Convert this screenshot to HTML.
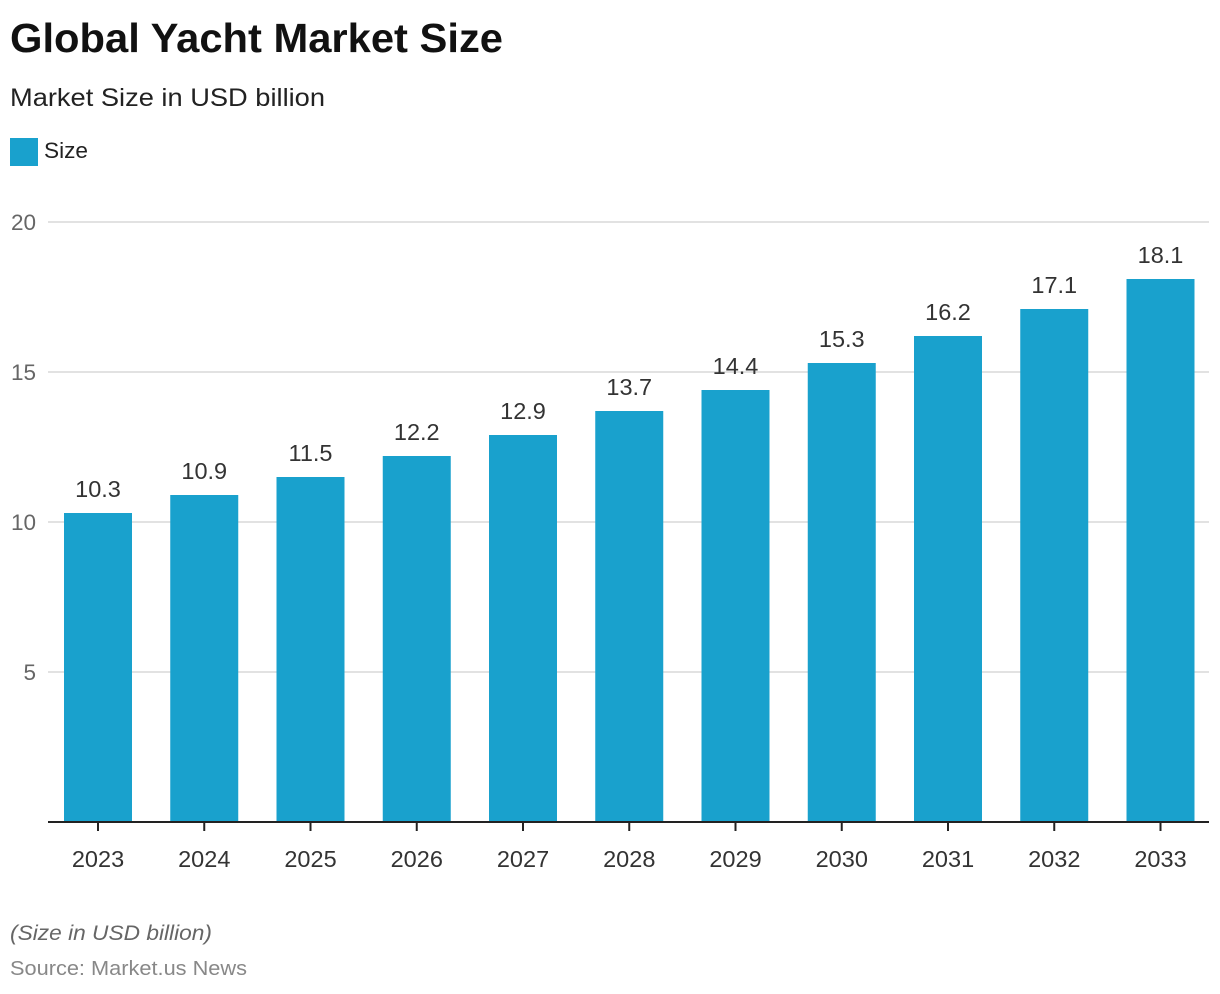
<!DOCTYPE html>
<html>
<head>
<meta charset="utf-8">
<style>
  html,body{margin:0;padding:0;background:#fff;}
  svg{display:block;}
  text{font-family:"Liberation Sans",Arial,sans-serif;}
</style>
</head>
<body>
<svg width="1220" height="994" viewBox="0 0 1220 994" xmlns="http://www.w3.org/2000/svg">
  <rect width="1220" height="994" fill="#fff"/>
  <!-- Title -->
  <text x="10" y="52" font-size="41" font-weight="bold" fill="#111" textLength="493" lengthAdjust="spacingAndGlyphs">Global Yacht Market Size</text>
  <text x="10" y="106" font-size="25" fill="#222" textLength="315" lengthAdjust="spacingAndGlyphs">Market Size in USD billion</text>
  <!-- Legend -->
  <rect x="10" y="138" width="28" height="28" fill="#19a1cd"/>
  <text x="44" y="158" font-size="22" fill="#222" textLength="44" lengthAdjust="spacingAndGlyphs">Size</text>

  <!-- Gridlines -->
  <g stroke="#d9d9d9" stroke-width="1.5">
    <line x1="48" y1="222" x2="1209" y2="222"/>
    <line x1="48" y1="372" x2="1209" y2="372"/>
    <line x1="48" y1="522" x2="1209" y2="522"/>
    <line x1="48" y1="672" x2="1209" y2="672"/>
  </g>
  <!-- Y labels -->
  <g font-size="22.5" fill="#666" text-anchor="end">
    <text x="36" y="230">20</text>
    <text x="36" y="380">15</text>
    <text x="36" y="530">10</text>
    <text x="36" y="680">5</text>
  </g>

  <!-- Bars -->
  <g fill="#19a1cd">
    <rect x="64" y="513" width="68" height="309"/>
    <rect x="170.25" y="495" width="68" height="327"/>
    <rect x="276.5" y="477" width="68" height="345"/>
    <rect x="382.75" y="456" width="68" height="366"/>
    <rect x="489" y="435" width="68" height="387"/>
    <rect x="595.25" y="411" width="68" height="411"/>
    <rect x="701.5" y="390" width="68" height="432"/>
    <rect x="807.75" y="363" width="68" height="459"/>
    <rect x="914" y="336" width="68" height="486"/>
    <rect x="1020.25" y="309" width="68" height="513"/>
    <rect x="1126.5" y="279" width="68" height="543"/>
  </g>

  <!-- Value labels -->
  <g font-size="23.5" fill="#333" text-anchor="middle">
    <text x="98" y="497">10.3</text>
    <text x="204.25" y="479">10.9</text>
    <text x="310.5" y="461">11.5</text>
    <text x="416.75" y="440">12.2</text>
    <text x="523" y="419">12.9</text>
    <text x="629.25" y="395">13.7</text>
    <text x="735.5" y="374">14.4</text>
    <text x="841.75" y="347">15.3</text>
    <text x="948" y="320">16.2</text>
    <text x="1054.25" y="293">17.1</text>
    <text x="1160.5" y="263">18.1</text>
  </g>

  <!-- Axis -->
  <line x1="48" y1="822" x2="1209" y2="822" stroke="#222" stroke-width="2"/>
  <g stroke="#222" stroke-width="2">
    <line x1="98" y1="822" x2="98" y2="831"/>
    <line x1="204.25" y1="822" x2="204.25" y2="831"/>
    <line x1="310.5" y1="822" x2="310.5" y2="831"/>
    <line x1="416.75" y1="822" x2="416.75" y2="831"/>
    <line x1="523" y1="822" x2="523" y2="831"/>
    <line x1="629.25" y1="822" x2="629.25" y2="831"/>
    <line x1="735.5" y1="822" x2="735.5" y2="831"/>
    <line x1="841.75" y1="822" x2="841.75" y2="831"/>
    <line x1="948" y1="822" x2="948" y2="831"/>
    <line x1="1054.25" y1="822" x2="1054.25" y2="831"/>
    <line x1="1160.5" y1="822" x2="1160.5" y2="831"/>
  </g>
  <!-- X labels -->
  <g font-size="23.5" fill="#333" text-anchor="middle">
    <text x="98" y="867">2023</text>
    <text x="204.25" y="867">2024</text>
    <text x="310.5" y="867">2025</text>
    <text x="416.75" y="867">2026</text>
    <text x="523" y="867">2027</text>
    <text x="629.25" y="867">2028</text>
    <text x="735.5" y="867">2029</text>
    <text x="841.75" y="867">2030</text>
    <text x="948" y="867">2031</text>
    <text x="1054.25" y="867">2032</text>
    <text x="1160.5" y="867">2033</text>
  </g>

  <!-- Footer -->
  <text x="10" y="940" font-size="21" font-style="italic" fill="#666" textLength="202" lengthAdjust="spacingAndGlyphs">(Size in USD billion)</text>
  <text x="10" y="975" font-size="20" fill="#888" textLength="237" lengthAdjust="spacingAndGlyphs">Source: Market.us News</text>
</svg>
</body>
</html>
